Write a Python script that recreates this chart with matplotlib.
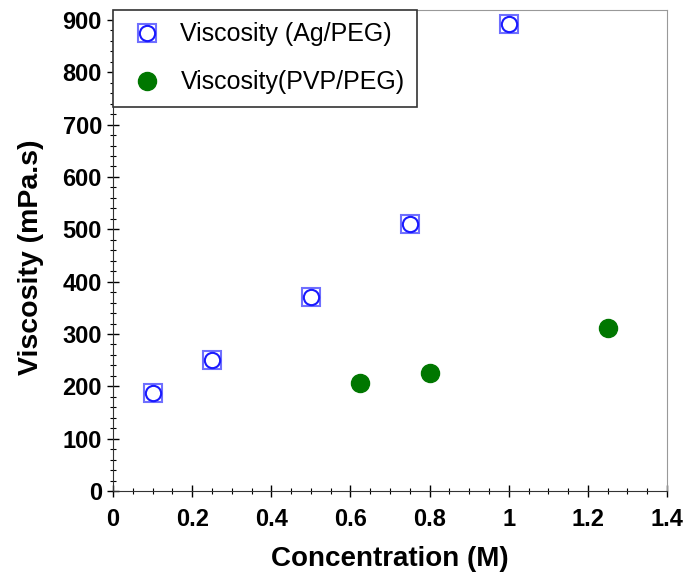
import matplotlib.pyplot as plt
from matplotlib.ticker import MultipleLocator
from matplotlib.legend_handler import HandlerTuple

# data
ag_conc = [0.1, 0.25, 0.5, 0.75, 1.0]
ag_visc = [187, 250, 371, 510, 892]
pvp_conc = [0.625, 0.8, 1.25]
pvp_visc = [206, 225, 311]

plt.rcParams['font.family'] = ['Liberation Sans', 'DejaVu Sans']

fig = plt.figure(figsize=(6.83, 5.75), dpi=100)
ax = fig.add_axes([113 / 683, 1 - 491 / 575, 554 / 683, 481 / 575])

# Ag/PEG: blue square with a circle inside
sq, = ax.plot(ag_conc, ag_visc, 's', ms=13, mfc='none', mec='#6f6fff', mew=1.5, ls='none')
ci, = ax.plot(ag_conc, ag_visc, 'o', ms=11, mfc='white', mec='#1a1aff', mew=1.5, ls='none')
gr, = ax.plot(pvp_conc, pvp_visc, 'o', ms=13, color='#007700', ls='none')

ax.set_xlim(0, 1.4)
ax.set_ylim(0, 919)
ax.xaxis.set_minor_locator(MultipleLocator(0.05))
ax.yaxis.set_major_locator(MultipleLocator(100))
ax.yaxis.set_minor_locator(MultipleLocator(20))
ax.set_xticks([0, 0.2, 0.4, 0.6, 0.8, 1.0, 1.2, 1.4])
ax.set_xticklabels(['0', '0.2', '0.4', '0.6', '0.8', '1', '1.2', '1.4'])

ax.tick_params(which='major', direction='inout', length=8, width=1, labelsize=17)
ax.tick_params(which='minor', direction='inout', length=4, width=0.8)
ax.tick_params(axis='x', which='major', pad=8)
ax.tick_params(axis='y', which='major', pad=4)
ax.tick_params(top=False, right=False, which='both')
for lab in ax.get_xticklabels() + ax.get_yticklabels():
    lab.set_fontweight('bold')

for s in ['top', 'right']:
    ax.spines[s].set_color('#999999')
for s in ['left', 'bottom']:
    ax.spines[s].set_color('#333333')

ax.set_xlabel('Concentration (M)', fontsize=20, fontweight='bold', labelpad=11)
ax.set_ylabel('Viscosity (mPa.s)', fontsize=20.5, fontweight='bold')
ax.yaxis.set_label_coords(-0.125, 0.486)

leg = ax.legend([(sq, ci), gr], ['Viscosity (Ag/PEG)', 'Viscosity(PVP/PEG)'],
                handler_map={tuple: HandlerTuple(ndivide=1)},
                loc='upper left', bbox_to_anchor=(0.0, 1.0), borderaxespad=0,
                fontsize=18, fancybox=False, framealpha=1, edgecolor='#333333',
                borderpad=0.5, labelspacing=0.95, handletextpad=0.45, handlelength=1.75)
leg.get_frame().set_linewidth(1.2)

fig.savefig('out.png', dpi=100)
